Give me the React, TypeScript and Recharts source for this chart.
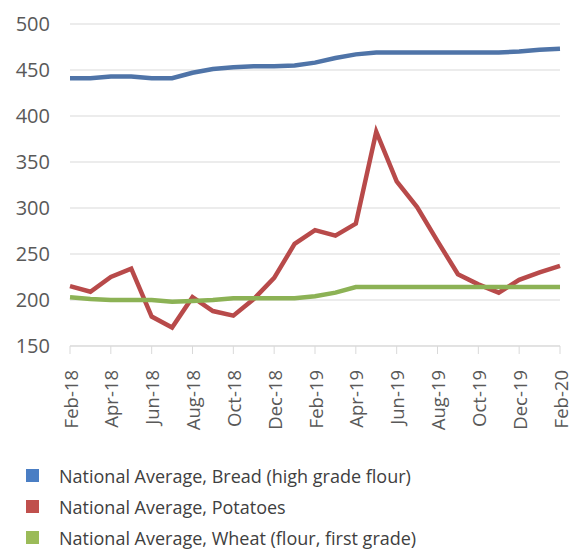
import React from "react";
import { LineChart, Line, XAxis, YAxis, CartesianGrid, Legend } from "recharts";

const months = [
  "Feb-18", "Mar-18", "Apr-18", "May-18", "Jun-18", "Jul-18", "Aug-18", "Sep-18", "Oct-18", "Nov-18", "Dec-18", "Jan-19",
  "Feb-19", "Mar-19", "Apr-19", "May-19", "Jun-19", "Jul-19", "Aug-19", "Sep-19", "Oct-19", "Nov-19", "Dec-19", "Jan-20", "Feb-20",
];
const bread = [441, 441, 443, 443, 441, 441, 447, 451, 453, 454, 454, 455, 458, 463, 467, 469, 469, 469, 469, 469, 469, 469, 470, 472, 473];
const potatoes = [215, 209, 225, 234, 182, 170, 203, 188, 183, 201, 224, 261, 276, 270, 283, 383, 329, 301, 264, 228, 217, 208, 222, 230, 237];
const wheat = [203, 201, 200, 200, 200, 198, 199, 200, 202, 202, 202, 202, 204, 208, 214, 214, 214, 214, 214, 214, 214, 214, 214, 214, 214];
const yTicks = [150, 200, 250, 300, 350, 400, 450, 500];

const seriesNames = [
  "National Average, Bread (high grade flour)",
  "National Average, Potatoes",
  "National Average, Wheat (flour, first grade)",
];
const lineColors = ["#4F74A8", "#B84A4A", "#8CB255"];
const legendColors = ["#4A7EC4", "#C0504D", "#9BBB59"];

const data = months.map((m, i) => ({ month: m, bread: bread[i], potatoes: potatoes[i], wheat: wheat[i] }));

const FONT = "'Open Sans', sans-serif";

const XTick = (props: any) => {
  const { x, y, payload } = props;
  return (
    <g transform={`translate(${x},${y + 14})`}>
      <text transform="rotate(-90)" textAnchor="end" dominantBaseline="central" fill="#595959" fontSize={18.5} fontFamily={FONT}>
        {payload.value}
      </text>
    </g>
  );
};

const LegendContent = () => (
  <div style={{ height: 105, paddingTop: 24, paddingLeft: 26, boxSizing: "border-box", fontFamily: FONT }}>
    {seriesNames.map((n, i) => (
      <div key={n} style={{ display: "flex", alignItems: "center", height: 31, lineHeight: "22px" }}>
        <span style={{ width: 13, height: 13, background: legendColors[i], display: "inline-block", marginRight: 20 }} />
        <span style={{ fontSize: 18, color: "#404040" }}>{n}</span>
      </div>
    ))}
  </div>
);

export default function App() {
  return (
    <div style={{ position: "absolute", left: 0, top: 0, background: "#fff" }}>
      <LineChart width={570} height={551} data={data} margin={{ top: 24, right: 10, left: 0, bottom: 10 }}>
        <CartesianGrid vertical={false} stroke="#d9d9d9" />
        <XAxis
          dataKey="month"
          interval={1}
          tick={<XTick />}
          tickLine={{ stroke: "#d9d9d9" }}
          axisLine={{ stroke: "#d9d9d9" }}
          tickSize={8}
          height={90}
        />
        <YAxis
          domain={[150, 500]}
          ticks={yTicks}
          width={70}
          axisLine={false}
          tickLine={false}
          tickSize={0}
          tickMargin={20}
          tick={{ fill: "#595959", fontSize: 20, fontFamily: FONT }}
        />
        <Legend verticalAlign="bottom" align="left" content={<LegendContent />} />
        <Line dataKey="bread" stroke={lineColors[0]} strokeWidth={4.5} dot={false} isAnimationActive={false} />
        <Line dataKey="potatoes" stroke={lineColors[1]} strokeWidth={4.5} dot={false} isAnimationActive={false} />
        <Line dataKey="wheat" stroke={lineColors[2]} strokeWidth={4.5} dot={false} isAnimationActive={false} />
      </LineChart>
    </div>
  );
}
